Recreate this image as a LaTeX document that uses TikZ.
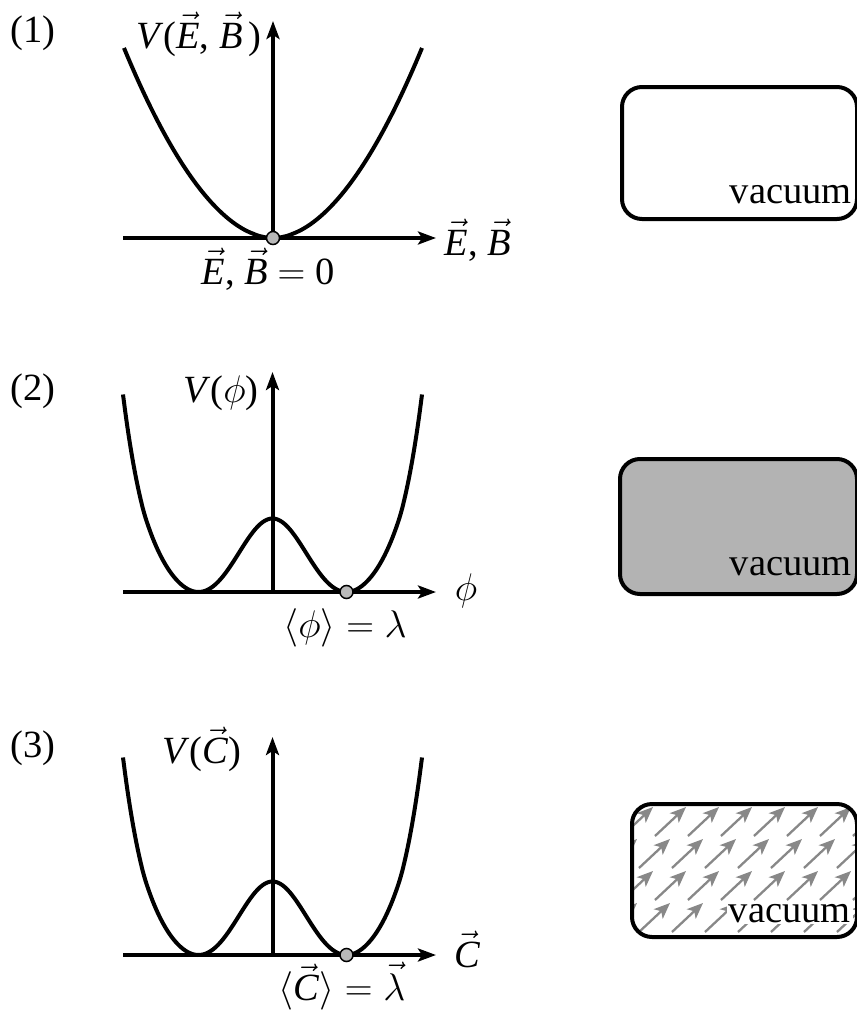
\RequirePackage{fix-cm}
\documentclass[tikz,border=0pt]{standalone}
\usepackage{fontspec}
\setmainfont{Liberation Serif}
\usetikzlibrary{arrows.meta}
\definecolor{fieldgray}{RGB}{136,136,136}
\definecolor{dotgray}{RGB}{185,185,185}
\definecolor{boxgray}{RGB}{179,179,179}
\newcommand\vv[1]{\ensuremath{\vec{\mbox{\itshape #1}}}}
\begin{document}
\begin{tikzpicture}[x=1pt,y=-1pt,
  lbl/.style={inner sep=0pt, font=\fontsize{38.5}{42}\selectfont},
  axis/.style={line width=4pt, -{Stealth[length=18pt,width=13pt,inset=4pt]}},
  curve/.style={line width=4pt},
  dot/.style={circle, draw=black, line width=1.5pt, fill=dotgray, minimum size=13pt, inner sep=0pt},
  vacbox/.style={rounded corners=20pt, line width=4pt, draw=black, anchor=north west, inner sep=0pt},
  fieldarrow/.style={draw=fieldgray, line width=2.3pt, -{Stealth[length=16pt,width=13pt,inset=4pt]}},
  declare function={wellc(\u)=17.5+56*exp(-\u/0.9)+2.5*max(\u-3,0);
                    well(\d)=((\d/74)*(\d/74)-1)*((\d/74)*(\d/74)-1)*wellc((\d/74)*(\d/74));}]
\useasboundingbox (0,0) rectangle (857,1010);

% ---------- panel 1 ----------
\node[lbl] (n1) at (33,33) {(1)};
\coordinate (o1) at (273,238);
\coordinate (x1s) at (123,238);
\coordinate (x1e) at (436,238);
\coordinate (y1e) at (273,21);
\draw[curve] plot[domain=-149:149, samples=100] ({273+\x}, {238-190*pow(abs(\x)/149+0.0001,1.9)});
\draw[axis] (x1s) -- (x1e);
\draw[axis] (o1) -- (y1e);
\node[dot] (d1) at (o1) {};
\node[lbl, anchor=base] (v1) at (199,48) {\textit{V}(\vv{E}, \vv{B}\,)};
\node[lbl, anchor=base] (lx1) at (478,255) {\vv{E}, \vv{B}};
\node[lbl, anchor=base] (lo1) at (268,284) {\vv{E}, \vv{B} $=$ 0};
\node[vacbox, minimum width=235pt, minimum height=132pt] (b1) at (620,85) {};
\node[lbl, anchor=base east] (vac1) at (852,203) {vacuum};

% ---------- panel 2 ----------
\node[lbl] (n2) at (33,391) {(2)};
\coordinate (o2) at (272.5,592);
\coordinate (x2s) at (123,592);
\coordinate (x2e) at (436,592);
\coordinate (y2e) at (272.5,372);
\draw[curve] plot[domain=-149.5:149.5, samples=121, smooth] ({272.5+\x}, {592-well(\x)});
\draw[axis] (x2s) -- (x2e);
\draw[axis] (o2) -- (y2e);
\node[dot] (d2) at (346.5,592) {};
\node[lbl, anchor=base] (v2) at (221,402) {\textit{V}($\phi$)};
\node[lbl, anchor=base] (lx2) at (466,600) {$\phi$};
\node[lbl, anchor=base] (lo2) at (345,637) {$\langle\phi\rangle=\lambda$};
\node[vacbox, fill=boxgray, minimum width=237pt, minimum height=135pt] (b2) at (618,457) {};
\node[lbl, anchor=base east] (vac2) at (852,575) {vacuum};

% ---------- panel 3 ----------
\node[lbl] (n3) at (33,748) {(3)};
\coordinate (o3) at (272.5,955);
\coordinate (x3s) at (123,955);
\coordinate (x3e) at (436,955);
\coordinate (y3e) at (272.5,737);
\draw[curve] plot[domain=-149.5:149.5, samples=121, smooth] ({272.5+\x}, {955-well(\x)});
\draw[axis] (x3s) -- (x3e);
\draw[axis] (o3) -- (y3e);
\node[dot] (d3) at (346.5,955) {};
\node[lbl, anchor=base] (v3) at (202,763) {\textit{V}(\vv{C})};
\node[lbl, anchor=base] (lx3) at (467,967) {\vv{C}};
\node[lbl, anchor=base] (lo3) at (342,1000) {$\langle$\vv{C}$\rangle=\vec{\lambda}$};
\begin{scope}
  \clip[rounded corners=20pt] (630,802) rectangle (855,935);
  \foreach \r in {0,...,4} {
    \foreach \c in {-1,...,7} {
      \pgfmathsetmacro\tx{653+33*\c+17*mod(\r,2)}
      \pgfmathsetmacro\ty{807+32*\r}
      \draw[fieldarrow] ({\tx-31},{\ty+29}) -- (\tx,\ty);
    }
  }
\end{scope}
\node[lbl, anchor=base east, fill=white, inner sep=2pt] (vac3) at (853,922) {vacuum};
\node[vacbox, minimum width=225pt, minimum height=133pt] (b3) at (630,802) {};
\end{tikzpicture}
\end{document}
